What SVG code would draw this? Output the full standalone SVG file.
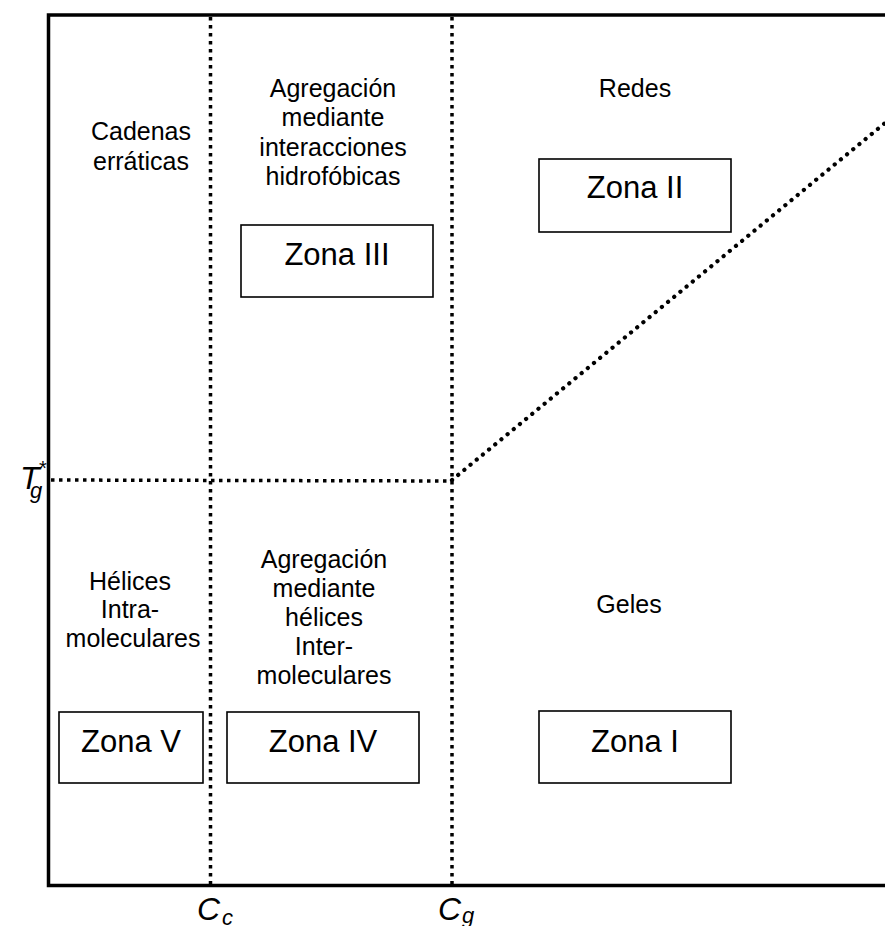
<svg xmlns="http://www.w3.org/2000/svg" width="885" height="926" viewBox="0 0 885 926">
<style>
text{font-family:"Liberation Sans",Arial,sans-serif;fill:#000}
.lbl{font-size:25px;text-anchor:middle}
.zona{font-size:31px;text-anchor:middle}
.ax{font-size:32px;font-style:italic}
.sub{font-size:22px;font-style:italic}
.box{fill:none;stroke:#000;stroke-width:1.6}
.dot{fill:none;stroke:#000;stroke-width:3.5;stroke-dasharray:3.5 4.5}
.diag{fill:none;stroke:#000;stroke-width:4.2;stroke-linecap:round;stroke-dasharray:0.1 7.9}
.frame{fill:none;stroke:#000;stroke-width:3.5}
</style>
<rect width="885" height="926" fill="#fff"/>
<g id="frame">
<path class="frame" d="M885 15 H48.5 V885.5 H885"/>
</g>
<g id="connectors">
<line class="dot" x1="210.5" y1="17" x2="210.5" y2="884"/>
<line class="dot" x1="452" y1="17" x2="452" y2="884"/>
<line class="dot" x1="51" y1="480" x2="452" y2="481"/>
<line class="diag" x1="452" y1="480" x2="885" y2="123"/>
</g>
<g id="axis-labels">
<text class="ax" x="20" y="489">T</text>
<text class="sub" x="30" y="498">g</text>
<text x="39" y="475" style="font-size:20px">*</text>
<text class="ax" x="197" y="920">C</text>
<text class="sub" x="222" y="925">c</text>
<text class="ax" x="438" y="920">C</text>
<text class="sub" x="462" y="923">g</text>
</g>
<g id="cadenas">
<text class="lbl" x="141" y="140">Cadenas</text>
<text class="lbl" x="141" y="170">erráticas</text>
</g>
<g id="agreg-hidro">
<text class="lbl" x="333" y="97">Agregación</text>
<text class="lbl" x="333" y="126">mediante</text>
<text class="lbl" x="333" y="156">interacciones</text>
<text class="lbl" x="333" y="185">hidrofóbicas</text>
</g>
<g id="redes">
<text class="lbl" x="635" y="97">Redes</text>
</g>
<g id="zona-ii">
<rect class="box" x="539" y="159" width="192" height="73"/>
<text class="zona" x="635" y="198">Zona II</text>
</g>
<g id="zona-iii">
<rect class="box" x="241" y="225" width="192" height="72"/>
<text class="zona" x="337" y="265">Zona III</text>
</g>
<g id="helices">
<text class="lbl" x="130" y="590">Hélices</text>
<text class="lbl" x="130" y="618">Intra-</text>
<text class="lbl" x="133" y="647">moleculares</text>
</g>
<g id="agreg-helices">
<text class="lbl" x="324" y="568">Agregación</text>
<text class="lbl" x="324" y="597">mediante</text>
<text class="lbl" x="324" y="626">hélices</text>
<text class="lbl" x="324" y="655">Inter-</text>
<text class="lbl" x="324" y="684">moleculares</text>
</g>
<g id="geles">
<text class="lbl" x="629" y="613">Geles</text>
</g>
<g id="zona-v">
<rect class="box" x="59" y="712" width="144" height="71"/>
<text class="zona" x="131" y="752">Zona V</text>
</g>
<g id="zona-iv">
<rect class="box" x="227" y="712" width="192" height="71"/>
<text class="zona" x="323" y="752">Zona IV</text>
</g>
<g id="zona-i">
<rect class="box" x="539" y="711" width="192" height="72"/>
<text class="zona" x="635" y="752">Zona I</text>
</g>
</svg>
